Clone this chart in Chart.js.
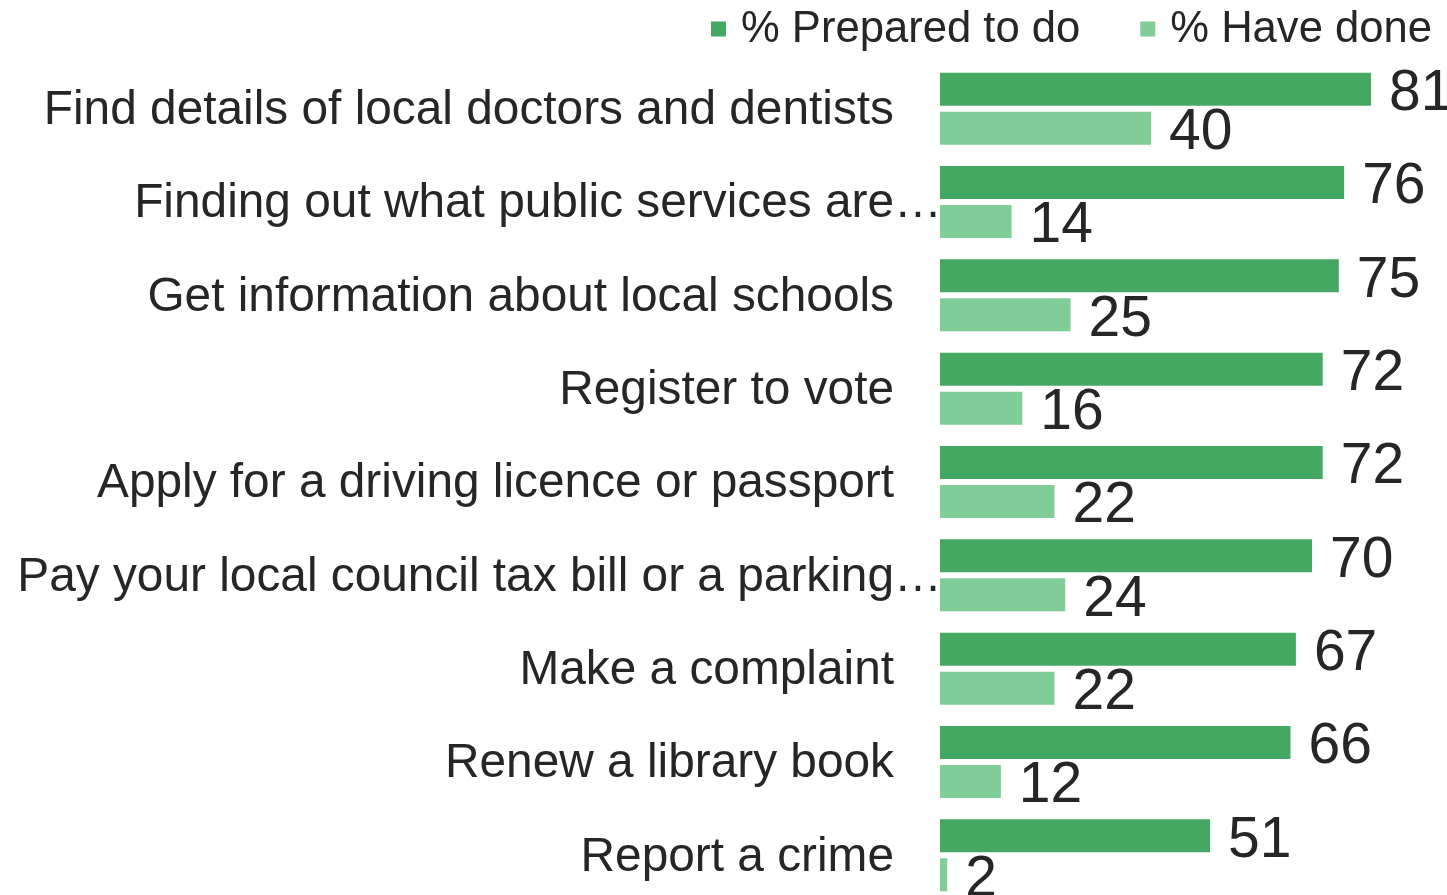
<!DOCTYPE html>
<html>
<head>
<meta charset="utf-8">
<title>Online services</title>
<script src="https://cdn.jsdelivr.net/npm/chart.js@4/dist/chart.umd.min.js"></script>
<style>
    html, body { margin: 0; padding: 0; background: #ffffff; overflow: hidden; }
    canvas { display: block; }
</style>
</head>
<body>
<canvas id="servicesChart" width="1447" height="902"></canvas>
<script>
// Activities, top to bottom
const activities = [
    'Find details of local doctors and dentists',
    'Finding out what public services are\u2026',
    'Get information about local schools',
    'Register to vote',
    'Apply for a driving licence or passport',
    'Pay your local council tax bill or a parking\u2026',
    'Make a complaint',
    'Renew a library book',
    'Report a crime'
];

// Percent of respondents
const preparedToDo = [81, 76, 75, 72, 72, 70, 67, 66, 51];
const haveDone = [40, 14, 25, 16, 22, 24, 22, 12, 2];

const seriesNames = ['% Prepared to do', '% Have done'];
const seriesColors = ['#44a862', '#80cd98'];

const textColor = '#262626';
const fontFamily = '"Liberation Sans", Arial, sans-serif';

// Category labels are drawn by hand so a trailing ellipsis can hang past the label column
const categoryLabels = {
    id: 'categoryLabels',
    afterDraw(chart) {
        const ctx = chart.ctx;
        const yScale = chart.scales.y;
        const rightEdge = 894;
        ctx.save();
        ctx.font = '47.8px ' + fontFamily;
        ctx.fillStyle = textColor;
        ctx.textBaseline = 'middle';
        ctx.textAlign = 'left';
        activities.forEach((label, i) => {
            const base = label.replace(/\u2026$/, '');
            const w = ctx.measureText(base).width;
            ctx.fillText(label, rightEdge - w, yScale.getPixelForValue(i) + 2);
        });
        ctx.restore();
    }
};

// Value at the end of each bar
const valueLabels = {
    id: 'valueLabels',
    afterDatasetsDraw(chart) {
        const ctx = chart.ctx;
        ctx.save();
        ctx.font = '57px ' + fontFamily;
        ctx.fillStyle = textColor;
        ctx.textBaseline = 'middle';
        ctx.textAlign = 'left';
        chart.data.datasets.forEach((ds, di) => {
            chart.getDatasetMeta(di).data.forEach((bar, i) => {
                ctx.fillText(String(ds.data[i]), bar.x + 18, bar.y + 5);
            });
        });
        ctx.restore();
    }
};

// Legend in the top right corner
const topLegend = {
    id: 'topLegend',
    afterDraw(chart) {
        const ctx = chart.ctx;
        ctx.save();
        ctx.font = '43.6px ' + fontFamily;
        ctx.textBaseline = 'middle';
        ctx.textAlign = 'left';
        const box = 15, gap = 15, spacing = 60, y = 29;
        let x = 1432;
        for (let i = seriesNames.length - 1; i >= 0; i--) {
            const w = ctx.measureText(seriesNames[i]).width;
            x -= w;
            ctx.fillStyle = textColor;
            ctx.fillText(seriesNames[i], x, y + 1);
            x -= gap + box;
            ctx.fillStyle = seriesColors[i];
            ctx.fillRect(x, y - box / 2, box, box);
            x -= spacing;
        }
        ctx.restore();
    }
};

const ctx = document.getElementById('servicesChart').getContext('2d');

new Chart(ctx, {
    type: 'bar',
    data: {
        labels: activities,
        datasets: [
            {
                label: seriesNames[0],
                data: preparedToDo,
                backgroundColor: seriesColors[0],
                base: 0.65,
                categoryPercentage: 0.836,
                barPercentage: 0.846
            },
            {
                label: seriesNames[1],
                data: haveDone,
                backgroundColor: seriesColors[1],
                base: 0.65,
                categoryPercentage: 0.836,
                barPercentage: 0.846
            }
        ]
    },
    options: {
        indexAxis: 'y',
        responsive: false,
        animation: false,
        layout: {
            padding: { top: 62, right: 2, bottom: 0, left: 0 }
        },
        plugins: {
            legend: { display: false },
            tooltip: { enabled: false }
        },
        scales: {
            x: {
                display: false,
                min: 0,
                max: 94.8
            },
            y: {
                grid: { display: false, drawTicks: false },
                border: { display: false },
                ticks: { display: false },
                afterFit(scale) {
                    scale.width = 936.5; // label column
                }
            }
        }
    },
    plugins: [categoryLabels, valueLabels, topLegend]
});
</script>
</body>
</html>
